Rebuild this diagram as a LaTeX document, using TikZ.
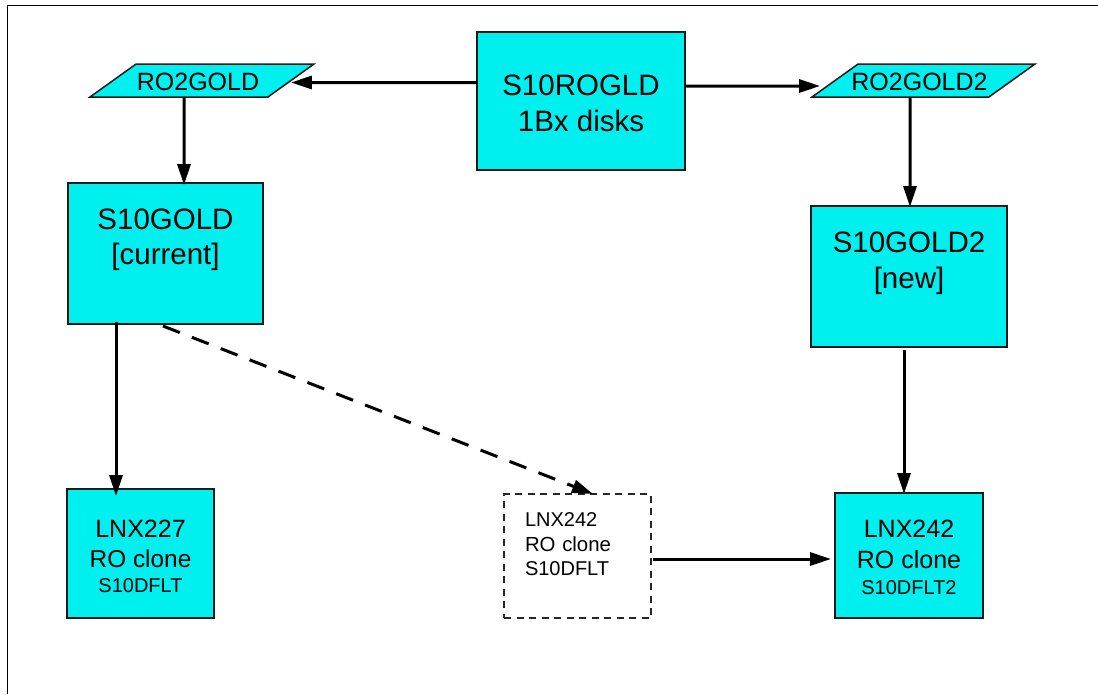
\documentclass[tikz,border=0pt]{standalone}
\usepackage{fontspec}
\setmainfont{Liberation Sans}
\usetikzlibrary{arrows.meta,shapes.geometric}
\definecolor{boxcyan}{RGB}{0,240,240}
\newcommand{\fs}[2]{\fontsize{#1}{#2}\selectfont}
\tikzset{
  x=1pt,y=-1pt,
  every node/.style={outer sep=0pt,inner sep=0pt,text=black},
  box/.style={draw=black!90,line width=1.6pt,fill=boxcyan,rectangle,align=center},
  ghost/.style={draw=black!85,line width=1.3pt,rectangle,dash pattern=on 7pt off 5.5pt,fill=white,align=left,text width=105pt,inner xsep=21pt},
  para/.style={draw=black!90,line width=1.5pt,fill=boxcyan,trapezium,trapezium stretches body=true,trapezium left angle=35.6,trapezium right angle=144.4,inner ysep=5pt,text height=21pt,text depth=2pt},
  arr/.style={line width=3pt,draw=black,-{Stealth[inset=0pt,length=21pt,width=13pt]}},
  darr/.style={arr,dash pattern=on 18pt off 13pt}
}
\begin{document}
\begin{tikzpicture}
\useasboundingbox (0,0) rectangle (1098,694);
\coordinate (fa) at (7,694);
\coordinate (fb) at (7,5);
\coordinate (fc) at (1098,5);
\draw[line width=1pt,black] (fa) -- (fb) -- (fc);

\node[box,minimum width=208pt,minimum height=138pt,font=\fs{29.5}{36}] (rogld) at (581,101)
  {\rule{0pt}{26pt}S10ROGLD\\1Bx disks};
\node[para,minimum width=224pt,font=\fs{25}{25}] (ro2) at (202,80.5) {\makebox[120pt][c]{RO2GOLD\hspace*{8pt}}};
\node[para,minimum width=223pt,font=\fs{25}{25}] (ro22) at (923.5,80.5) {\makebox[120pt][c]{RO2GOLD2\hspace*{8pt}}};
\node[box,minimum width=195pt,minimum height=141pt,font=\fs{29.5}{35}] (gold) at (165.5,253.5)
  {S10GOLD\\{}[current]\\[-1.5pt]\mbox{}};
\node[box,minimum width=196pt,minimum height=141pt,font=\fs{29.5}{36}] (gold2) at (909,276.5)
  {S10GOLD2\\{}[new]\\[-3.5pt]\mbox{}};
\node[box,minimum width=147pt,minimum height=129pt,font=\fs{25}{28}] (l227) at (140.5,553.5)
  {\rule{0pt}{24pt}LNX227\\[2pt]\fs{24.4}{28}RO clone\\[-3pt]\fs{20}{28}S10DFLT};
\node[ghost,minimum width=147pt,minimum height=124pt,font=\fs{20}{25}] (ghostbox) at (577.5,556)
  {LNX242\\\fs{20.4}{25}RO clone\\[-1pt]\fs{20}{25}S10DFLT\\[-1.4pt]\mbox{}};
\node[box,minimum width=148pt,minimum height=125pt,font=\fs{25}{28}] (l242) at (909,555.5)
  {\rule{0pt}{22pt}LNX242\\[3pt]RO clone\\[-2pt]\fs{20}{28}S10DFLT2};

\draw[arr] ([yshift=18.5pt]rogld.west) -- ([yshift=-2pt]ro2.east);
\draw[arr] ([yshift=15pt]rogld.east) -- ([xshift=-15pt,yshift=-5.5pt]ro22.west);
\draw[arr] ([xshift=-18pt]ro2.south) -- ([xshift=18.5pt,yshift=-2pt]gold.north);
\draw[arr] ([xshift=-13.5pt]ro22.south) -- ([xshift=1pt,yshift=-1pt]gold2.north);
\draw[arr] ([xshift=-49.5pt,yshift=2pt]gold.south) -- ([xshift=-24.5pt,yshift=-7pt]l227.north);
\draw[darr] ([xshift=-2.5pt,yshift=-2pt]gold.south) -- ([xshift=15.5pt]ghostbox.north);
\draw[arr] ([yshift=-3pt,xshift=-5pt]gold2.south) -- ([xshift=-5pt,yshift=-1pt]l242.north);
\draw[arr] ([xshift=2pt,yshift=-3pt]ghostbox.east) -- ([xshift=-4pt,yshift=-3.5pt]l242.west);
\end{tikzpicture}
\end{document}
